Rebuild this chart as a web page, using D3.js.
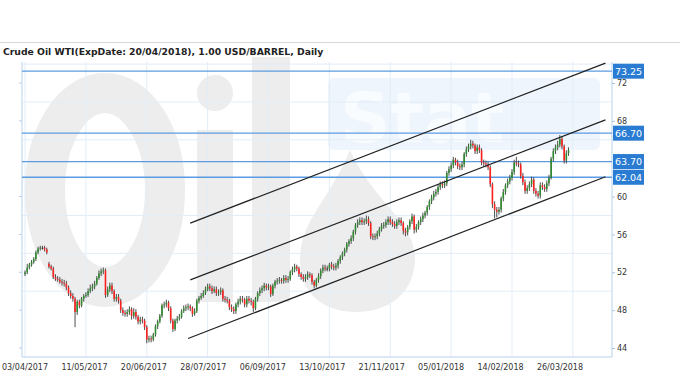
<!DOCTYPE html>
<html>
<head>
<meta charset="utf-8">
<script src="https://cdn.jsdelivr.net/npm/d3@7"></script>
<style>
  body { margin: 0; background: #fff; }
  text { font-family: 'DejaVu Sans', Verdana, sans-serif; }
</style>
</head>
<body>
<div id="chart-holder"></div>
<script>
// Crude oil WTI daily candles with channel + levels

const title = 'Crude Oil WTI(ExpDate: 20/04/2018), 1.00 USD/BARREL, Daily'

const tickBars = [0, 28, 56, 84, 112, 140, 168, 196, 224, 252]
const tickLabels = ['03/04/2017', '11/05/2017', '20/06/2017', '28/07/2017', '06/09/2017',
                    '13/10/2017', '21/11/2017', '05/01/2018', '14/02/2018', '26/03/2018']
// 64 sits under the level tags in the source, so it is not labelled
const priceTicks = [44, 48, 52, 56, 60, 68, 72]
const gridPrices = [50, 54, 58, 62, 66, 70, 74]

const opens = [
  51.8, 52.0, 52.5, 52.8, 53.1, 53.4, 54.1, 54.5, 54.6, 54.6,
  54.4, 52.9, 52.6, 52.4, 51.5, 51.3, 51.2, 51.0, 50.9, 50.8,
  50.4, 49.8, 49.5, 49.2, 47.8, 48.9, 48.5, 49.2, 49.5, 49.6,
  50.0, 50.3, 50.5, 50.8, 51.4, 51.9, 52.1, 52.2, 49.6, 50.2,
  50.6, 50.0, 49.2, 49.4, 49.0, 48.0, 47.7, 47.6, 47.8, 48.1,
  47.4, 47.8, 47.3, 46.8, 47.0, 46.9, 46.2, 44.9, 45.0, 44.9,
  45.4, 46.3, 46.8, 47.4, 48.5, 48.6, 48.8, 48.2, 46.9, 46.0,
  46.9, 47.1, 47.3, 47.9, 48.2, 48.3, 48.4, 48.2, 47.6, 47.9,
  49.0, 49.3, 49.5, 49.8, 50.2, 50.5, 50.3, 50.0, 50.2, 49.8,
  49.9, 50.1, 49.2, 49.1, 49.0, 48.3, 48.1, 47.9, 48.6, 48.9,
  49.2, 49.1, 48.6, 49.2, 49.0, 48.9, 48.2, 49.2, 49.8, 50.1,
  50.3, 50.6, 50.4, 50.5, 49.7, 50.6, 51.0, 51.1, 51.2, 51.1,
  51.4, 51.2, 51.3, 52.0, 52.3, 52.6, 52.4, 51.8, 51.5, 51.3,
  51.5, 51.8, 51.7, 51.0, 50.6, 51.2, 51.6, 52.2, 52.5, 52.4,
  52.4, 52.8, 52.6, 52.5, 52.7, 53.2, 53.6, 54.0, 54.4, 55.0,
  55.3, 55.6, 56.3, 57.0, 57.3, 57.5, 57.3, 57.4, 57.6, 57.2,
  55.8, 55.7, 55.8, 56.1, 56.6, 56.9, 57.0, 57.3, 57.6, 57.3,
  57.1, 56.9, 57.3, 57.5, 57.2, 56.4, 56.2, 56.8, 57.4, 57.9,
  56.5, 56.8, 57.3, 57.6, 58.0, 58.3, 58.9, 59.5, 59.9, 60.3,
  60.5, 61.0, 61.3, 61.2, 61.4, 62.5, 62.9, 63.3, 63.9, 63.6,
  63.2, 63.1, 63.4, 64.5, 65.0, 65.3, 65.6, 65.4, 64.8, 65.2,
  64.9, 63.6, 63.5, 63.4, 63.1, 61.3, 59.2, 58.6, 58.4, 58.6,
  59.8, 60.5, 61.2, 61.6, 62.0, 62.6, 63.6, 63.5, 63.4, 62.2,
  61.5, 60.6, 60.9, 61.3, 61.8, 60.6, 60.3, 60.1, 61.2, 61.0,
  60.8, 61.4, 62.0, 64.0, 64.8, 65.2, 65.5, 66.1, 65.3, 63.8, 64.6
]

const highs = [
  52.2, 52.9, 53.0, 53.3, 53.6, 54.3, 54.7, 54.8, 54.8, 54.8,
  54.6, 53.1, 52.8, 52.6, 51.8, 51.6, 51.5, 51.3, 51.2, 51.1,
  50.6, 50.1, 49.8, 49.4, 49.1, 49.1, 49.4, 49.7, 49.9, 50.3,
  50.7, 50.8, 51.1, 51.6, 52.2, 52.4, 52.5, 52.4, 50.5, 50.9,
  50.9, 50.2, 49.7, 49.7, 49.2, 48.3, 48.0, 48.1, 48.4, 48.3,
  48.2, 48.1, 47.5, 47.3, 47.3, 47.1, 46.4, 45.3, 45.3, 45.6,
  46.5, 47.0, 47.6, 48.7, 48.9, 49.1, 49.0, 48.4, 47.1, 47.1,
  47.4, 47.6, 48.1, 48.5, 48.6, 48.7, 48.6, 48.4, 48.2, 49.2,
  49.5, 49.8, 50.1, 50.5, 50.8, 50.8, 50.6, 50.5, 50.5, 50.2,
  50.4, 50.3, 49.5, 49.4, 49.2, 48.6, 48.4, 48.8, 49.2, 49.5,
  49.5, 49.3, 49.5, 49.5, 49.3, 49.1, 49.4, 50.0, 50.4, 50.6,
  50.9, 50.8, 50.8, 50.7, 50.8, 51.2, 51.4, 51.5, 51.4, 51.7,
  51.7, 51.6, 52.2, 52.6, 52.9, 52.8, 52.6, 52.0, 51.8, 51.8,
  52.1, 52.0, 51.9, 51.2, 51.4, 51.9, 52.4, 52.8, 52.8, 52.7,
  53.0, 53.1, 52.9, 53.0, 53.4, 53.8, 54.2, 54.6, 55.2, 55.5,
  55.9, 56.5, 57.2, 57.6, 57.8, 57.8, 57.7, 58.0, 57.9, 57.4,
  56.1, 56.1, 56.4, 56.8, 57.2, 57.3, 57.6, 57.9, 57.9, 57.6,
  57.4, 57.6, 57.8, 57.8, 57.4, 56.7, 57.0, 57.6, 58.2, 58.1,
  57.1, 57.5, 57.9, 58.3, 58.5, 59.1, 59.7, 60.2, 60.6, 60.8,
  61.3, 61.6, 61.6, 61.7, 62.7, 63.2, 63.6, 64.2, 64.1, 63.9,
  63.5, 63.7, 64.7, 65.3, 65.6, 66.0, 65.9, 65.6, 65.5, 65.5,
  65.1, 63.9, 63.8, 63.7, 63.3, 61.5, 59.5, 58.9, 58.9, 60.0,
  60.8, 61.4, 61.9, 62.3, 62.9, 63.9, 64.2, 63.8, 63.6, 62.5,
  61.8, 61.2, 61.6, 62.1, 62.0, 60.9, 60.6, 61.5, 61.5, 61.3,
  61.7, 62.3, 64.2, 65.1, 65.5, 65.9, 66.5, 66.4, 65.5, 64.9, 65.2
]

const lows = [
  51.6, 51.8, 52.3, 52.6, 52.9, 53.2, 53.9, 54.3, 54.4, 54.2,
  53.9, 52.4, 52.2, 51.3, 51.1, 51.0, 50.8, 50.6, 50.5, 50.1,
  49.5, 49.2, 48.9, 46.2, 47.5, 48.2, 48.3, 48.9, 49.3, 49.4,
  49.8, 50.0, 50.2, 50.6, 51.2, 51.6, 51.8, 49.3, 49.4, 49.9,
  49.7, 48.9, 48.9, 48.7, 47.7, 47.4, 47.3, 47.3, 47.5, 47.0,
  47.1, 47.0, 46.5, 46.5, 46.6, 45.9, 44.5, 44.6, 44.6, 44.7,
  45.2, 46.0, 46.6, 47.2, 48.2, 48.3, 47.9, 46.6, 45.7, 45.8,
  46.6, 46.9, 47.1, 47.7, 47.9, 48.0, 47.9, 47.3, 47.4, 47.7,
  48.7, 49.1, 49.3, 49.6, 50.0, 50.0, 49.7, 49.8, 49.5, 49.5,
  49.6, 48.9, 48.8, 48.7, 48.0, 47.8, 47.6, 47.6, 48.3, 48.6,
  48.8, 48.3, 48.3, 48.7, 48.5, 47.8, 48.0, 48.9, 49.5, 49.8,
  50.0, 50.1, 50.1, 49.4, 49.5, 50.3, 50.7, 50.8, 50.8, 50.8,
  50.9, 50.9, 51.1, 51.7, 52.0, 52.1, 51.5, 51.2, 51.0, 51.0,
  51.2, 51.4, 50.7, 50.3, 50.4, 50.9, 51.3, 51.9, 52.1, 52.1,
  52.1, 52.3, 52.2, 52.2, 52.4, 52.9, 53.3, 53.7, 54.1, 54.7,
  55.0, 55.3, 56.0, 56.7, 57.0, 57.0, 57.0, 57.1, 56.9, 55.5,
  55.4, 55.4, 55.5, 55.8, 56.3, 56.6, 56.7, 57.0, 57.0, 56.8,
  56.6, 56.6, 57.0, 56.9, 56.0, 55.8, 55.9, 56.5, 57.1, 56.1,
  56.2, 56.5, 57.0, 57.3, 57.7, 58.0, 58.6, 59.2, 59.6, 60.0,
  60.2, 60.7, 60.9, 60.9, 61.1, 62.2, 62.6, 63.0, 63.3, 62.9,
  62.8, 62.8, 63.1, 64.2, 64.7, 65.0, 65.1, 64.5, 64.5, 64.6,
  63.3, 63.2, 63.1, 62.8, 61.0, 58.8, 57.7, 57.8, 58.1, 58.3,
  59.5, 60.2, 60.9, 61.3, 61.7, 62.3, 63.2, 63.1, 61.9, 61.2,
  60.3, 60.3, 60.6, 61.0, 60.3, 60.0, 59.8, 59.8, 60.7, 60.5,
  60.5, 61.1, 61.8, 63.7, 64.5, 64.9, 65.2, 65.0, 63.5, 63.5, 64.3
]

const closes = [
  52.0, 52.5, 52.8, 53.1, 53.4, 54.1, 54.5, 54.6, 54.6, 54.4,
  54.1, 52.6, 52.4, 51.5, 51.3, 51.2, 51.0, 50.9, 50.8, 50.4,
  49.8, 49.5, 49.2, 47.8, 48.9, 48.5, 49.2, 49.5, 49.6, 50.0,
  50.3, 50.5, 50.8, 51.4, 51.9, 52.1, 52.2, 49.6, 50.2, 50.6,
  50.0, 49.2, 49.4, 49.0, 48.0, 47.7, 47.6, 47.8, 48.1, 47.4,
  47.8, 47.3, 46.8, 47.0, 46.9, 46.2, 44.9, 45.0, 44.9, 45.4,
  46.3, 46.8, 47.4, 48.5, 48.6, 48.8, 48.2, 46.9, 46.0, 46.9,
  47.1, 47.3, 47.9, 48.2, 48.3, 48.4, 48.2, 47.6, 47.9, 49.0,
  49.3, 49.5, 49.8, 50.2, 50.5, 50.3, 50.0, 50.2, 49.8, 49.9,
  50.1, 49.2, 49.1, 49.0, 48.3, 48.1, 47.9, 48.6, 48.9, 49.2,
  49.1, 48.6, 49.2, 49.0, 48.9, 48.2, 49.2, 49.8, 50.1, 50.3,
  50.6, 50.4, 50.5, 49.7, 50.6, 51.0, 51.1, 51.2, 51.1, 51.4,
  51.2, 51.3, 52.0, 52.3, 52.6, 52.4, 51.8, 51.5, 51.3, 51.5,
  51.8, 51.7, 51.0, 50.6, 51.2, 51.6, 52.2, 52.5, 52.4, 52.4,
  52.8, 52.6, 52.5, 52.7, 53.2, 53.6, 54.0, 54.4, 55.0, 55.3,
  55.6, 56.3, 57.0, 57.3, 57.5, 57.3, 57.4, 57.6, 57.2, 55.8,
  55.7, 55.8, 56.1, 56.6, 56.9, 57.0, 57.3, 57.6, 57.3, 57.1,
  56.9, 57.3, 57.5, 57.2, 56.4, 56.2, 56.8, 57.4, 57.9, 56.5,
  56.8, 57.3, 57.6, 58.0, 58.3, 58.9, 59.5, 59.9, 60.3, 60.5,
  61.0, 61.3, 61.2, 61.4, 62.5, 62.9, 63.3, 63.9, 63.6, 63.2,
  63.1, 63.4, 64.5, 65.0, 65.3, 65.6, 65.4, 64.8, 65.2, 64.9,
  63.6, 63.5, 63.4, 63.1, 61.3, 59.2, 58.6, 58.4, 58.6, 59.8,
  60.5, 61.2, 61.6, 62.0, 62.6, 63.6, 63.5, 63.4, 62.2, 61.5,
  60.6, 60.9, 61.3, 61.8, 60.6, 60.3, 60.1, 61.2, 61.0, 60.8,
  61.4, 62.0, 64.0, 64.8, 65.2, 65.5, 66.1, 65.3, 63.8, 64.6, 64.9
]

// price levels drawn as horizontal lines with tags on the right
const levels = [73.25, 66.70, 63.70, 62.04]

// channel lines: [startBar, startPrice, endBar, endPrice]
const channelUpper = [76, 57.2, 267, 74.1]
const channelMiddle = [76, 51.2, 267, 68.1]
const channelLower = [75, 45.0, 267, 62.1]

const width = 680, height = 380
const plot = { left: 22, right: 612, top: 62, bottom: 357 }

var candles = closes.map((c, i) => ({ i: i, o: opens[i], h: highs[i], l: lows[i], c: c }))

var x = d3.scaleLinear()
    .domain([-1.4, 270])
    .range([plot.left, plot.right])

var y = d3.scaleLinear()
    .domain([43.05, 74.22])
    .range([plot.bottom, plot.top])

var svg = d3.select('#chart-holder')
    .append('svg')
    .attr('width', width)
    .attr('height', height)

// top rule + title
svg.append('line')
    .attr('x1', 0).attr('x2', width)
    .attr('y1', 42.5).attr('y2', 42.5)
    .attr('stroke', '#d6d6d6')

svg.append('text')
    .attr('x', 3)
    .attr('y', 55)
    .attr('font-size', '9.25px')
    .attr('font-weight', 'bold')
    .attr('fill', '#222')
    .text(title)

// watermark (Oil Stat logo, very faint)
let wm = svg.append('g').attr('opacity', 0.065)

wm.append('ellipse')
    .attr('cx', 105).attr('cy', 190)
    .attr('rx', 60).attr('ry', 97)
    .attr('fill', 'none')
    .attr('stroke', '#000')
    .attr('stroke-width', 40)
wm.append('circle').attr('cx', 215).attr('cy', 93).attr('r', 18).attr('fill', '#000')
wm.append('rect').attr('x', 197).attr('y', 130).attr('width', 36).attr('height', 172).attr('fill', '#000')
wm.append('rect').attr('x', 252).attr('y', 57).attr('width', 38).attr('height', 245).attr('fill', '#000')
wm.append('path')
    .attr('d', 'M350,150 C330,200 300,220 300,260 C300,295 325,312 356,312 C390,312 415,292 415,258 C415,222 372,200 350,150 Z')
    .attr('fill', '#000')

let wm2 = svg.append('g')
wm2.append('rect')
    .attr('x', 328).attr('y', 78)
    .attr('width', 272).attr('height', 72)
    .attr('rx', 6)
    .attr('fill', '#e3effa')
    .attr('opacity', 0.6)
wm2.append('text')
    .attr('x', 340).attr('y', 142)
    .attr('font-size', '70px')
    .attr('font-weight', 'bold')
    .attr('fill', '#fff')
    .attr('opacity', 0.7)
    .text('Stat')

// grid
let grid = svg.append('g')

grid.selectAll('.vgrid')
    .data(tickBars)
    .join('line')
    .classed('vgrid', true)
    .attr('x1', d => x(d)).attr('x2', d => x(d))
    .attr('y1', plot.top).attr('y2', plot.bottom)
    .attr('stroke', '#e2edf8')

grid.selectAll('.hgrid')
    .data(gridPrices)
    .join('line')
    .classed('hgrid', true)
    .attr('x1', plot.left).attr('x2', plot.right)
    .attr('y1', d => y(d)).attr('y2', d => y(d))
    .attr('stroke', '#e2edf8')

// frame
let frame = svg.append('g').attr('stroke', '#cfe1f3').attr('stroke-width', 1.5)
frame.append('line').attr('x1', plot.left).attr('x2', plot.left).attr('y1', plot.top).attr('y2', plot.bottom)
frame.append('line').attr('x1', plot.right).attr('x2', plot.right).attr('y1', plot.top).attr('y2', plot.bottom)
frame.append('line').attr('x1', plot.left).attr('x2', plot.right).attr('y1', plot.bottom).attr('y2', plot.bottom)

// left tick marks
svg.selectAll('.ltick')
    .data(priceTicks)
    .join('line')
    .classed('ltick', true)
    .attr('x1', plot.left - 3).attr('x2', plot.left)
    .attr('y1', d => y(d)).attr('y2', d => y(d))
    .attr('stroke', '#b9cfe6')

// right axis
let yAxis = svg.append('g')
    .attr('transform', `translate(${plot.right},0)`)
    .call(d3.axisRight(y).tickValues(priceTicks).tickSize(3).tickFormat(d3.format('d')))

yAxis.select('.domain').remove()
yAxis.selectAll('line').attr('stroke', '#aac4de')
yAxis.selectAll('text')
    .attr('font-size', '8px')
    .attr('font-family', "'DejaVu Sans', Verdana, sans-serif")
    .attr('fill', '#333')
    .attr('x', 5)

// bottom labels (they drift a bit left of the grid, as in the source)
var labelX = d3.scaleLinear().domain([0, tickLabels.length - 1]).range([25, 560])

svg.selectAll('.xlabel')
    .data(tickLabels)
    .join('text')
    .classed('xlabel', true)
    .attr('x', (d, i) => labelX(i))
    .attr('y', 370)
    .attr('text-anchor', 'middle')
    .attr('font-size', '8px')
    .attr('fill', '#333')
    .text(d => d)

// levels
let levelG = svg.append('g')

levelG.selectAll('.level')
    .data(levels)
    .join('line')
    .classed('level', true)
    .attr('x1', plot.left).attr('x2', plot.right)
    .attr('y1', d => y(d)).attr('y2', d => y(d))
    .attr('stroke', '#5b9be0')
    .attr('stroke-width', 1.3)

// candles
let candleG = svg.append('g')
const bodyW = 1.6

candleG.selectAll('.wick')
    .data(candles)
    .join('line')
    .classed('wick', true)
    .attr('x1', d => x(d.i)).attr('x2', d => x(d.i))
    .attr('y1', d => y(d.h)).attr('y2', d => y(d.l))
    .attr('stroke', '#3a3a3a')
    .attr('stroke-width', 0.9)

candleG.selectAll('.body')
    .data(candles)
    .join('rect')
    .classed('body', true)
    .attr('x', d => x(d.i) - bodyW / 2)
    .attr('width', bodyW)
    .attr('y', d => y(Math.max(d.o, d.c)))
    .attr('height', d => Math.max(1, Math.abs(y(d.o) - y(d.c))))
    .attr('fill', d => d.c > d.o ? '#2e8b2e' : (d.c < d.o ? '#ff2020' : '#222'))

// channel
svg.selectAll('.channel')
    .data([channelUpper, channelMiddle, channelLower])
    .join('line')
    .classed('channel', true)
    .attr('x1', d => x(d[0])).attr('y1', d => y(d[1]))
    .attr('x2', d => x(d[2])).attr('y2', d => y(d[3]))
    .attr('stroke', '#222')
    .attr('stroke-width', 1.2)

// level tags
let tags = svg.selectAll('.tag')
    .data(levels)
    .join('g')
    .classed('tag', true)
    .attr('transform', d => `translate(${plot.right + 1},${y(d)})`)

tags.append('rect')
    .attr('x', 0).attr('y', -7.5)
    .attr('width', 31).attr('height', 15)
    .attr('fill', '#2a7cd3')

tags.append('text')
    .attr('x', 15.5).attr('y', 3.5)
    .attr('text-anchor', 'middle')
    .attr('font-size', '9.5px')
    .attr('fill', '#fff')
    .text(d => d.toFixed(2))
</script>
</body>
</html>
